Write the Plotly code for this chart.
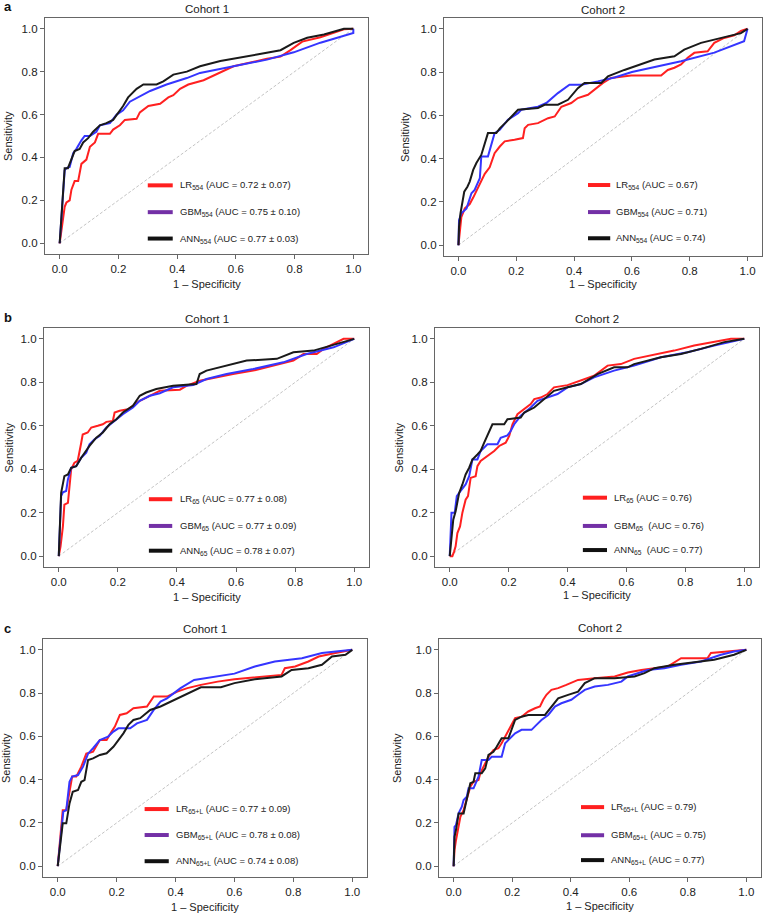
import plotly.graph_objects as go

# ---------------- data ----------------
diag = [0.0, 1.0]
tick_vals = [0.0, 0.2, 0.4, 0.6, 0.8, 1.0]
tick_text = ["0.0", "0.2", "0.4", "0.6", "0.8", "1.0"]

panel_letters = ["a", "b", "c"]
cohorts = ["Cohort 1", "Cohort 2"]
x_title = "1 \u2013 Specificity"
y_title = "Sensitivity"
model_names = ["LR", "GBM", "ANN"]
feature_sets = ["554", "65", "65+L"]

# AUC labels, row a / b / c, cohort 1 / 2
auc_a1 = ["0.72 \u00b1 0.07", "0.75 \u00b1 0.10", "0.77 \u00b1 0.03"]
auc_a2 = ["0.67", "0.71", "0.74"]
auc_b1 = ["0.77 \u00b1 0.08", "0.77 \u00b1 0.09", "0.78 \u00b1 0.07"]
auc_b2 = ["0.76", "0.76", "0.77"]
auc_c1 = ["0.77 \u00b1 0.09", "0.78 \u00b1 0.08", "0.74 \u00b1 0.08"]
auc_c2 = ["0.79", "0.75", "0.77"]

# ---- a, cohort 1
a1_lr_x = [0, 0.017, 0.023, 0.034, 0.04, 0.051, 0.063, 0.074, 0.091, 0.103, 0.12, 0.131, 0.171, 0.182, 0.205, 0.222, 0.262, 0.273, 0.302, 0.342, 0.37, 0.387, 0.41, 0.438, 0.49, 0.535, 0.592, 0.706, 0.752, 0.786, 0.826, 0.888, 0.934, 0.968, 1.0]
a1_lr_y = [0, 0.17, 0.19, 0.2, 0.25, 0.29, 0.29, 0.37, 0.39, 0.45, 0.47, 0.51, 0.51, 0.53, 0.55, 0.575, 0.58, 0.61, 0.64, 0.65, 0.68, 0.69, 0.72, 0.74, 0.76, 0.79, 0.825, 0.86, 0.87, 0.9, 0.94, 0.96, 0.98, 0.997, 1.0]
a1_gbm_x = [0, 0.017, 0.023, 0.034, 0.046, 0.057, 0.074, 0.085, 0.103, 0.125, 0.137, 0.171, 0.194, 0.216, 0.239, 0.273, 0.308, 0.364, 0.433, 0.478, 0.592, 0.706, 0.797, 0.888, 1.0, 1.0]
a1_gbm_y = [0, 0.34, 0.35, 0.356, 0.42, 0.44, 0.48, 0.5, 0.5, 0.52, 0.55, 0.56, 0.6, 0.62, 0.66, 0.685, 0.71, 0.74, 0.77, 0.794, 0.825, 0.856, 0.89, 0.935, 0.98, 1.0]
a1_ann_x = [0, 0.017, 0.028, 0.034, 0.051, 0.068, 0.08, 0.097, 0.114, 0.137, 0.159, 0.182, 0.199, 0.216, 0.233, 0.262, 0.285, 0.33, 0.353, 0.387, 0.433, 0.478, 0.547, 0.615, 0.672, 0.752, 0.797, 0.843, 0.9, 0.968, 1.0]
a1_ann_y = [0, 0.35, 0.35, 0.37, 0.43, 0.44, 0.47, 0.49, 0.52, 0.55, 0.56, 0.575, 0.605, 0.64, 0.68, 0.72, 0.74, 0.74, 0.755, 0.786, 0.8, 0.825, 0.85, 0.865, 0.88, 0.9, 0.934, 0.958, 0.973, 1.0, 1.0]

# ---- a, cohort 2
a2_lr_x = [0, 0.006, 0.01, 0.022, 0.039, 0.051, 0.062, 0.074, 0.091, 0.108, 0.125, 0.143, 0.16, 0.194, 0.223, 0.229, 0.241, 0.275, 0.31, 0.333, 0.356, 0.39, 0.413, 0.448, 0.471, 0.5, 0.528, 0.597, 0.701, 0.724, 0.747, 0.77, 0.793, 0.816, 0.862, 0.885, 0.919, 0.954, 0.977, 1.0]
a2_lr_y = [0, 0.07, 0.13, 0.17, 0.19, 0.22, 0.25, 0.29, 0.33, 0.36, 0.425, 0.456, 0.48, 0.487, 0.495, 0.54, 0.556, 0.564, 0.587, 0.595, 0.64, 0.657, 0.68, 0.695, 0.72, 0.75, 0.773, 0.784, 0.784, 0.81, 0.82, 0.835, 0.866, 0.889, 0.896, 0.935, 0.958, 0.97, 0.99, 1.0]
a2_gbm_x = [0, 0.002, 0.01, 0.028, 0.045, 0.056, 0.074, 0.079, 0.102, 0.114, 0.125, 0.143, 0.16, 0.171, 0.189, 0.206, 0.217, 0.252, 0.275, 0.304, 0.344, 0.384, 0.425, 0.482, 0.54, 0.6, 0.77, 0.885, 0.988, 1.0]
a2_gbm_y = [0, 0.116, 0.147, 0.17, 0.24, 0.255, 0.31, 0.41, 0.41, 0.47, 0.518, 0.533, 0.564, 0.58, 0.595, 0.61, 0.626, 0.634, 0.64, 0.657, 0.703, 0.742, 0.742, 0.757, 0.775, 0.8, 0.85, 0.89, 0.943, 1.0]
a2_ann_x = [0, 0.002, 0.007, 0.013, 0.02, 0.031, 0.039, 0.051, 0.062, 0.079, 0.091, 0.102, 0.131, 0.143, 0.166, 0.183, 0.194, 0.206, 0.275, 0.298, 0.344, 0.379, 0.413, 0.436, 0.494, 0.517, 0.574, 0.632, 0.678, 0.747, 0.781, 0.839, 0.885, 0.931, 0.977, 1.0]
a2_ann_y = [0, 0.085, 0.147, 0.2, 0.247, 0.27, 0.294, 0.348, 0.38, 0.417, 0.47, 0.518, 0.518, 0.54, 0.57, 0.595, 0.61, 0.626, 0.634, 0.649, 0.649, 0.672, 0.726, 0.75, 0.75, 0.78, 0.81, 0.835, 0.858, 0.873, 0.904, 0.935, 0.95, 0.966, 0.98, 1.0]

# ---- b, cohort 1
b1_lr_x = [0, 0.006, 0.014, 0.019, 0.031, 0.036, 0.042, 0.053, 0.064, 0.076, 0.081, 0.098, 0.11, 0.132, 0.149, 0.161, 0.183, 0.189, 0.206, 0.234, 0.251, 0.274, 0.308, 0.342, 0.41, 0.432, 0.477, 0.534, 0.59, 0.658, 0.726, 0.794, 0.828, 0.873, 0.896, 0.941, 0.964, 1.0]
b1_lr_y = [0, 0.045, 0.137, 0.237, 0.245, 0.322, 0.4, 0.43, 0.438, 0.522, 0.56, 0.569, 0.592, 0.6, 0.607, 0.618, 0.622, 0.661, 0.669, 0.676, 0.692, 0.715, 0.738, 0.761, 0.766, 0.784, 0.807, 0.823, 0.838, 0.854, 0.877, 0.9, 0.93, 0.93, 0.954, 0.985, 1.0, 1.0]
b1_gbm_x = [0, 0.008, 0.014, 0.025, 0.031, 0.042, 0.059, 0.076, 0.093, 0.104, 0.121, 0.138, 0.161, 0.189, 0.217, 0.251, 0.274, 0.308, 0.342, 0.387, 0.455, 0.5, 0.568, 0.658, 0.76, 0.839, 0.93, 1.0]
b1_gbm_y = [0, 0.276, 0.294, 0.3, 0.353, 0.407, 0.414, 0.453, 0.476, 0.515, 0.538, 0.553, 0.592, 0.622, 0.653, 0.684, 0.715, 0.738, 0.75, 0.777, 0.787, 0.815, 0.838, 0.861, 0.892, 0.93, 0.961, 1.0]
b1_ann_x = [0, 0.008, 0.019, 0.031, 0.042, 0.059, 0.076, 0.087, 0.104, 0.127, 0.149, 0.172, 0.195, 0.217, 0.251, 0.274, 0.296, 0.33, 0.387, 0.466, 0.477, 0.5, 0.568, 0.636, 0.738, 0.794, 0.862, 0.919, 0.964, 1.0]
b1_ann_y = [0, 0.291, 0.368, 0.376, 0.407, 0.414, 0.453, 0.476, 0.507, 0.545, 0.569, 0.607, 0.63, 0.661, 0.692, 0.738, 0.753, 0.769, 0.784, 0.792, 0.838, 0.854, 0.877, 0.9, 0.908, 0.938, 0.946, 0.969, 0.985, 1.0]

# ---- b, cohort 2
b2_lr_x = [0, 0.009, 0.015, 0.02, 0.026, 0.035, 0.043, 0.054, 0.062, 0.071, 0.088, 0.094, 0.105, 0.128, 0.151, 0.168, 0.19, 0.202, 0.213, 0.23, 0.253, 0.275, 0.287, 0.309, 0.332, 0.354, 0.4, 0.445, 0.49, 0.536, 0.581, 0.626, 0.694, 0.762, 0.83, 0.898, 0.955, 1.0]
b2_lr_y = [0, 0, 0.022, 0.045, 0.106, 0.137, 0.2, 0.26, 0.276, 0.36, 0.368, 0.414, 0.438, 0.46, 0.484, 0.507, 0.522, 0.553, 0.607, 0.653, 0.676, 0.7, 0.723, 0.73, 0.746, 0.777, 0.787, 0.807, 0.83, 0.877, 0.884, 0.908, 0.926, 0.946, 0.969, 0.985, 1.0, 1.0]
b2_gbm_x = [0, 0.003, 0.006, 0.017, 0.024, 0.037, 0.054, 0.066, 0.077, 0.094, 0.105, 0.128, 0.162, 0.173, 0.196, 0.207, 0.219, 0.241, 0.275, 0.298, 0.332, 0.366, 0.4, 0.445, 0.49, 0.558, 0.626, 0.717, 0.807, 0.898, 1.0]
b2_gbm_y = [0, 0.106, 0.2, 0.2, 0.276, 0.3, 0.33, 0.368, 0.445, 0.445, 0.484, 0.515, 0.515, 0.545, 0.556, 0.576, 0.607, 0.646, 0.684, 0.715, 0.73, 0.746, 0.777, 0.792, 0.823, 0.854, 0.877, 0.915, 0.938, 0.969, 1.0]
b2_ann_x = [0, 0.006, 0.012, 0.02, 0.032, 0.043, 0.054, 0.066, 0.077, 0.094, 0.105, 0.117, 0.128, 0.145, 0.185, 0.196, 0.241, 0.253, 0.287, 0.32, 0.354, 0.4, 0.445, 0.502, 0.558, 0.604, 0.626, 0.717, 0.785, 0.853, 0.932, 1.0]
b2_ann_y = [0, 0.106, 0.168, 0.206, 0.291, 0.33, 0.376, 0.407, 0.445, 0.468, 0.484, 0.522, 0.553, 0.607, 0.607, 0.63, 0.638, 0.661, 0.684, 0.723, 0.761, 0.777, 0.792, 0.838, 0.869, 0.869, 0.884, 0.915, 0.93, 0.954, 0.985, 1.0]

# ---- c, cohort 1
c1_lr_x = [0, 0.011, 0.017, 0.029, 0.04, 0.049, 0.063, 0.08, 0.097, 0.12, 0.143, 0.166, 0.183, 0.194, 0.211, 0.234, 0.257, 0.303, 0.326, 0.371, 0.406, 0.44, 0.486, 0.543, 0.6, 0.691, 0.76, 0.771, 0.806, 0.851, 0.886, 0.943, 1.0]
c1_lr_y = [0, 0.151, 0.259, 0.259, 0.336, 0.414, 0.414, 0.46, 0.52, 0.529, 0.583, 0.583, 0.622, 0.645, 0.699, 0.707, 0.73, 0.738, 0.784, 0.784, 0.807, 0.823, 0.838, 0.853, 0.864, 0.877, 0.884, 0.915, 0.923, 0.946, 0.969, 0.985, 1.0]
c1_gbm_x = [0, 0.011, 0.019, 0.029, 0.04, 0.049, 0.069, 0.086, 0.103, 0.12, 0.143, 0.171, 0.189, 0.206, 0.246, 0.269, 0.303, 0.326, 0.349, 0.371, 0.417, 0.463, 0.531, 0.6, 0.669, 0.737, 0.829, 0.897, 1.0]
c1_gbm_y = [0, 0.151, 0.252, 0.259, 0.39, 0.414, 0.421, 0.46, 0.52, 0.545, 0.583, 0.599, 0.622, 0.637, 0.637, 0.66, 0.676, 0.722, 0.761, 0.776, 0.823, 0.861, 0.877, 0.89, 0.923, 0.946, 0.961, 0.985, 1.0]
c1_ann_x = [0, 0.011, 0.017, 0.029, 0.04, 0.051, 0.069, 0.08, 0.091, 0.103, 0.12, 0.143, 0.166, 0.189, 0.206, 0.223, 0.24, 0.257, 0.28, 0.314, 0.349, 0.383, 0.417, 0.451, 0.486, 0.554, 0.6, 0.669, 0.76, 0.794, 0.851, 0.897, 0.931, 0.977, 1.0]
c1_ann_y = [0, 0.136, 0.198, 0.198, 0.29, 0.344, 0.352, 0.39, 0.398, 0.491, 0.498, 0.514, 0.522, 0.552, 0.583, 0.614, 0.653, 0.676, 0.684, 0.722, 0.738, 0.761, 0.784, 0.807, 0.827, 0.827, 0.846, 0.864, 0.877, 0.907, 0.915, 0.931, 0.969, 0.977, 1.0]

# ---- c, cohort 2
c2_lr_x = [0, 0.003, 0.008, 0.015, 0.023, 0.034, 0.045, 0.057, 0.068, 0.085, 0.091, 0.102, 0.119, 0.136, 0.153, 0.164, 0.176, 0.193, 0.21, 0.232, 0.255, 0.278, 0.295, 0.306, 0.317, 0.334, 0.357, 0.385, 0.425, 0.482, 0.55, 0.595, 0.641, 0.731, 0.777, 0.867, 0.879, 0.935, 1.0]
c2_lr_y = [0, 0.074, 0.12, 0.167, 0.228, 0.259, 0.306, 0.367, 0.39, 0.398, 0.429, 0.46, 0.506, 0.537, 0.545, 0.568, 0.599, 0.645, 0.684, 0.691, 0.715, 0.73, 0.738, 0.769, 0.792, 0.815, 0.823, 0.838, 0.861, 0.869, 0.877, 0.895, 0.907, 0.923, 0.961, 0.961, 0.985, 0.992, 1.0]
c2_gbm_x = [0, 0.003, 0.008, 0.017, 0.028, 0.034, 0.045, 0.051, 0.068, 0.085, 0.096, 0.119, 0.13, 0.164, 0.176, 0.193, 0.21, 0.232, 0.266, 0.283, 0.3, 0.323, 0.346, 0.368, 0.402, 0.425, 0.448, 0.482, 0.527, 0.573, 0.595, 0.663, 0.72, 0.777, 0.845, 0.913, 0.958, 1.0]
c2_gbm_y = [0, 0.182, 0.19, 0.244, 0.275, 0.306, 0.321, 0.36, 0.36, 0.414, 0.491, 0.491, 0.506, 0.506, 0.568, 0.591, 0.614, 0.63, 0.63, 0.653, 0.676, 0.699, 0.738, 0.753, 0.769, 0.792, 0.815, 0.83, 0.838, 0.853, 0.877, 0.907, 0.915, 0.931, 0.946, 0.977, 0.992, 1.0]
c2_ann_x = [0, 0.003, 0.008, 0.017, 0.034, 0.04, 0.051, 0.057, 0.068, 0.074, 0.096, 0.108, 0.119, 0.136, 0.147, 0.164, 0.187, 0.198, 0.21, 0.232, 0.255, 0.312, 0.334, 0.357, 0.391, 0.425, 0.448, 0.482, 0.55, 0.618, 0.652, 0.686, 0.754, 0.89, 0.958, 1.0]
c2_ann_y = [0, 0.136, 0.167, 0.244, 0.244, 0.282, 0.336, 0.383, 0.39, 0.429, 0.429, 0.452, 0.514, 0.529, 0.552, 0.591, 0.591, 0.637, 0.676, 0.691, 0.699, 0.699, 0.738, 0.776, 0.792, 0.807, 0.846, 0.869, 0.869, 0.877, 0.892, 0.915, 0.931, 0.954, 0.977, 1.0]

# ---------------- styling / layout ----------------
W, H = 764, 914
FONT = "Liberation Sans, Arial, Helvetica, sans-serif"
curve_colors = ["#ff2020", "#3535ff", "#1a1a1a"]
legend_colors = ["#ff1f1f", "#7330a6", "#111111"]
frame_color = "#666666"

# panel pixel boxes: (left, right, top, bottom)
boxes = [
    (45, 368, 18, 254), (444, 762, 18, 256),
    (44, 369, 328, 567), (435, 759, 328, 567),
    (43, 367, 639, 877), (439, 761, 639, 877),
]
title_y = [9, 10, 319, 319, 629, 628]
xtitle_y = [284, 284, 597, 595, 907, 906]
ytitle_x = [8, 405, 8, 398, 6, 397]
letter_y = [6, 317, 628]
# legend geometry in data units: (seg start, seg end, text x, row ys)
legend_geo = [
    (0.30, 0.385, 0.403, [0.27, 0.145, 0.022]),
    (0.448, 0.525, 0.538, [0.278, 0.153, 0.032]),
    (0.305, 0.384, 0.404, [0.262, 0.139, 0.025]),
    (0.452, 0.534, 0.551, [0.269, 0.139, 0.028]),
    (0.295, 0.377, 0.394, [0.264, 0.144, 0.023]),
    (0.435, 0.514, 0.531, [0.273, 0.143, 0.028]),
]

curves = [
    [(a1_lr_x, a1_lr_y), (a1_gbm_x, a1_gbm_y), (a1_ann_x, a1_ann_y)],
    [(a2_lr_x, a2_lr_y), (a2_gbm_x, a2_gbm_y), (a2_ann_x, a2_ann_y)],
    [(b1_lr_x, b1_lr_y), (b1_gbm_x, b1_gbm_y), (b1_ann_x, b1_ann_y)],
    [(b2_lr_x, b2_lr_y), (b2_gbm_x, b2_gbm_y), (b2_ann_x, b2_ann_y)],
    [(c1_lr_x, c1_lr_y), (c1_gbm_x, c1_gbm_y), (c1_ann_x, c1_ann_y)],
    [(c2_lr_x, c2_lr_y), (c2_gbm_x, c2_gbm_y), (c2_ann_x, c2_ann_y)],
]
aucs = [auc_a1, auc_a2, auc_b1, auc_b2, auc_c1, auc_c2]

fig = go.Figure()
layout = dict(
    width=W, height=H, margin=dict(l=0, r=0, t=0, b=0),
    paper_bgcolor="white", plot_bgcolor="white", showlegend=False,
    font=dict(family=FONT, color="#222222", size=11),
)
annotations = []
shapes = []

for i in range(6):
    n = "" if i == 0 else str(i + 1)
    xa, ya = "x" + n, "y" + n
    l, r, t, b = boxes[i]
    axis_common = dict(
        range=[-0.05, 1.05], showgrid=False, zeroline=False,
        showline=True, mirror=True, linecolor=frame_color, linewidth=1.3,
        ticks="outside", ticklen=4, tickwidth=1, tickcolor=frame_color,
        tickvals=tick_vals, ticktext=tick_text,
        tickfont=dict(family=FONT, size=11.5, color="#222222"),
        fixedrange=True,
    )
    layout["xaxis" + n] = dict(axis_common, domain=[l / W, r / W], anchor=ya)
    layout["yaxis" + n] = dict(axis_common, domain=[1 - b / H, 1 - t / H], anchor=xa)

    # chance diagonal
    fig.add_trace(go.Scatter(x=diag, y=diag, mode="lines", xaxis=xa, yaxis=ya,
                             line=dict(color="#c4c4c4", width=1, dash="3px,2px"),
                             hoverinfo="skip"))
    for k, (cx, cy) in enumerate(curves[i]):
        fig.add_trace(go.Scatter(x=cx, y=cy, mode="lines", xaxis=xa, yaxis=ya,
                                 line=dict(color=curve_colors[k], width=2),
                                 name=model_names[k]))

    # titles
    annotations.append(dict(text=cohorts[i % 2], xref=xa + " domain", x=0.5,
                            yref="paper", y=1 - title_y[i] / H, showarrow=False,
                            xanchor="center", yanchor="middle",
                            font=dict(family=FONT, size=11.5, color="#222222")))
    annotations.append(dict(text=x_title, xref=xa, x=0.5,
                            yref="paper", y=1 - xtitle_y[i] / H, showarrow=False,
                            xanchor="center", yanchor="middle",
                            font=dict(family=FONT, size=11, color="#222222")))
    annotations.append(dict(text=y_title, xref="paper", x=ytitle_x[i] / W,
                            yref=ya, y=0.5, showarrow=False, textangle=-90,
                            xanchor="center", yanchor="middle",
                            font=dict(family=FONT, size=11, color="#222222")))

    # legend
    s0, s1, tx, rows = legend_geo[i]
    fs = feature_sets[i // 2]
    for k in range(3):
        shapes.append(dict(type="line", xref=xa, yref=ya, x0=s0, x1=s1,
                           y0=rows[k], y1=rows[k],
                           line=dict(color=legend_colors[k], width=4)))
        gap = "\u00a0\u00a0" if (i == 3 and k > 0) else " "
        label = f"{model_names[k]}<sub>{fs}</sub>{gap}(AUC = {aucs[i][k]})"
        annotations.append(dict(text=label, xref=xa, x=tx, yref=ya, y=rows[k],
                                showarrow=False, xanchor="left", yanchor="middle",
                                font=dict(family=FONT, size=9.5, color="#222222")))

for j, letter in enumerate(panel_letters):
    annotations.append(dict(text=f"<b>{letter}</b>", xref="paper", x=2 / W,
                            yref="paper", y=1 - letter_y[j] / H, showarrow=False,
                            xanchor="left", yanchor="middle",
                            font=dict(family=FONT, size=13, color="#111111")))

layout["annotations"] = annotations
layout["shapes"] = shapes
fig.update_layout(**layout)
fig.write_html(
    "out.html",
    config={"displayModeBar": False},
    post_script="document.body.style.margin='0';document.body.style.overflow='hidden';",
)
